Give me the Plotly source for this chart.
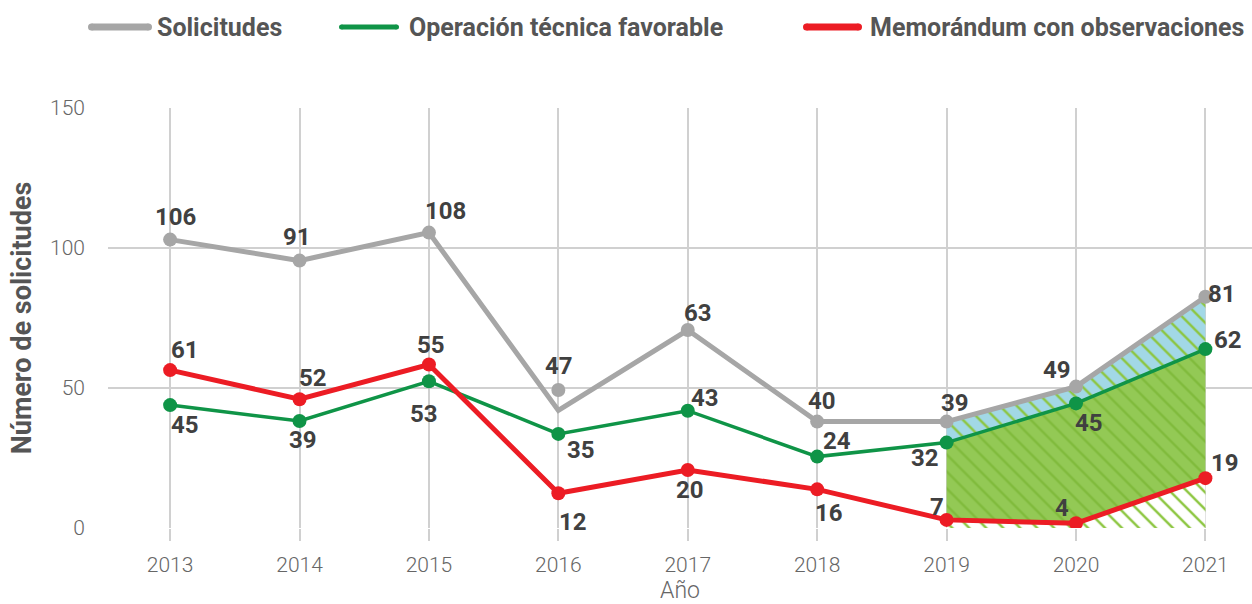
import plotly.graph_objects as go

years = [2013, 2014, 2015, 2016, 2017, 2018, 2019, 2020, 2021]

# Plotted positions
sol_line = [103, 95.5, 105.5, 42, 70.7, 38, 38, 50.5, 82.6]
sol_marker = [103, 95.5, 105.5, 49.3, 70.7, 38, 38, 50.5, 82.6]
ope = [43.9, 38.2, 52.4, 33.6, 41.9, 25.5, 30.5, 44.5, 63.9]
mem = [56.4, 46, 58.4, 12.4, 20.7, 13.8, 2.9, 1.7, 17.8]

# Data labels as printed
sol_lab = [106, 91, 108, 47, 63, 40, 39, 49, 81]
ope_lab = [45, 39, 53, 35, 43, 24, 32, 45, 62]
mem_lab = [61, 52, 55, 12, 20, 16, 7, 4, 19]

names = ["Solicitudes", "Operación técnica favorable", "Memorándum con observaciones"]

GRAY = "#a6a6a6"
GREEN = "#0f9447"
RED = "#ec1c24"
TXT = "#404040"
LEG_TXT = "#555555"

# label offsets (px) – styling only
sol_off = [(5, 23), (-3, 24), (17, 22), (1, 24), (10, 17), (5, 21), (8, 19), (-19, 17), (17, 3)]
ope_off = [(15, -20), (3, -19), (-5, -33), (23, -16), (17, 13), (20, 16), (-22, -15), (13, -20), (23, 9)]
mem_off = [(15, 20), (13, 21), (2, 19), (15, -29), (2, -20), (12, -24), (-10, 13), (-14, 15), (20, 15)]

# layout geometry (px)
W, H = 1252, 604
ML, MR, MT, MB = 108, 0, 108, 76
PW, PH = W - ML - MR, H - MT - MB

fig = go.Figure()

# shaded region 2019-2021
i0 = years.index(2019)
xs = years[i0:]
fig.add_trace(go.Scatter(x=xs, y=[0] * len(xs), mode="lines", line=dict(width=0),
                         showlegend=False, hoverinfo="skip"))
fig.add_trace(go.Scatter(x=xs, y=mem[i0:], mode="lines", line=dict(width=0), fill="tonexty",
                         fillcolor="rgba(255,255,255,0)",
                         fillpattern=dict(shape="\\", fgcolor="#8cc63f", bgcolor="white",
                                          size=12, solidity=0.2, fillmode="replace"),
                         showlegend=False, hoverinfo="skip"))
fig.add_trace(go.Scatter(x=xs, y=ope[i0:], mode="lines", line=dict(width=0), fill="tonexty",
                         fillpattern=dict(shape="\\", fgcolor="#80bb3c", bgcolor="#93c955",
                                          size=12, solidity=0.2, fillmode="replace"),
                         showlegend=False, hoverinfo="skip"))
fig.add_trace(go.Scatter(x=xs, y=sol_line[i0:], mode="lines", line=dict(width=0), fill="tonexty",
                         fillpattern=dict(shape="\\", fgcolor="#8cc63f", bgcolor="#a2d8e6",
                                          size=12, solidity=0.2, fillmode="replace"),
                         showlegend=False, hoverinfo="skip"))

# lines
fig.add_trace(go.Scatter(x=years, y=sol_line, mode="lines", name=names[0], showlegend=False,
                         line=dict(color=GRAY, width=5)))
fig.add_trace(go.Scatter(x=years, y=ope, mode="lines", name=names[1], showlegend=False,
                         line=dict(color=GREEN, width=3.5)))
fig.add_trace(go.Scatter(x=years, y=mem, mode="lines", name=names[2], showlegend=False,
                         line=dict(color=RED, width=5)))

# markers
for yv, col in [(sol_marker, GRAY), (ope, GREEN), (mem, RED)]:
    fig.add_trace(go.Scatter(x=years, y=yv, mode="markers", showlegend=False,
                             marker=dict(color=col, size=14)))

# data labels
annotations = []
for yv, labs, offs in [(sol_marker, sol_lab, sol_off), (ope, ope_lab, ope_off), (mem, mem_lab, mem_off)]:
    for x, y, t, (dx, dy) in zip(years, yv, labs, offs):
        annotations.append(dict(x=x, y=y, text=str(t), showarrow=False,
                                xshift=dx, yshift=dy,
                                font=dict(family="Roboto", size=24, color=TXT, weight="bold")))

# custom legend (long rounded line samples, as in the original)
leg_items = [(88, 152, 155), (339, 399, 407), (803, 862, 868)]
leg_cols = [GRAY, GREEN, RED]
leg_w = [7, 5, 7]
leg_y = 27
shapes = []
def px2x(p):
    return (p - ML) / PW
def py2y(p):
    return (H - MB - p) / PH
for (x0, x1, xt), col, lw, nm in zip(leg_items, leg_cols, leg_w, names):
    shapes.append(dict(type="line", xref="paper", yref="paper",
                       x0=px2x(x0 + lw / 2), x1=px2x(x1 - lw / 2), y0=py2y(leg_y), y1=py2y(leg_y),
                       line=dict(color=col, width=lw)))
    for cx in (x0 + lw / 2, x1 - lw / 2):
        shapes.append(dict(type="circle", xref="paper", yref="paper",
                           x0=px2x(cx - lw / 2), x1=px2x(cx + lw / 2),
                           y0=py2y(leg_y + lw / 2), y1=py2y(leg_y - lw / 2),
                           fillcolor=col, line=dict(width=0)))
    annotations.append(dict(xref="paper", yref="paper", x=px2x(xt), y=py2y(leg_y),
                            xanchor="left", yanchor="middle", text=nm, showarrow=False,
                            font=dict(family="Roboto", size=25, color=LEG_TXT, weight="bold")))

fig.update_layout(
    width=W, height=H,
    margin=dict(l=ML, r=MR, t=MT, b=MB),
    paper_bgcolor="white", plot_bgcolor="white",
    annotations=annotations, shapes=shapes,
    showlegend=False,
    xaxis=dict(range=[2012.52, 2021.36], tickvals=years, ticktext=[str(y) for y in years],
               showgrid=True, gridcolor="#d0d0d0", gridwidth=1.5,
               ticks="outside", ticklen=12, tickcolor="#d0d0d0", tickwidth=1.5,
               ticklabelstandoff=6,
               zeroline=False, showline=False, automargin=False,
               tickfont=dict(family="Roboto", size=21, color="#666666", weight=300),
               title=dict(text="Año", standoff=9,
                          font=dict(family="Roboto", size=23, color="#666666", weight=300))),
    yaxis=dict(range=[0, 150], tickvals=[0, 50, 100, 150],
               showgrid=True, gridcolor="#d0d0d0", gridwidth=1.5,
               zeroline=False, showline=False, ticks="", ticklabelstandoff=22, automargin=False,
               tickfont=dict(family="Roboto", size=21, color="#666666", weight=300),
               title=dict(text="Número de solicitudes", standoff=10,
                          font=dict(family="Roboto", size=27, color="#555555", weight="bold"))),
)

fig.write_html("out.html", config={"displayModeBar": False},
               post_script="document.body.style.margin='0';document.body.style.overflow='hidden';")
